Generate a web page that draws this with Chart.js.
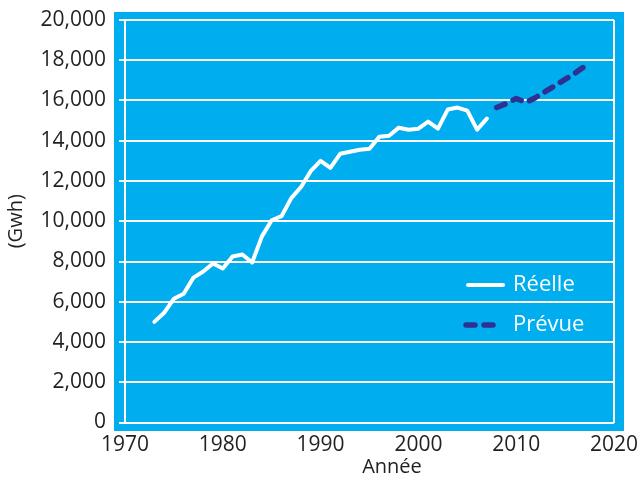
<!DOCTYPE html>
<html>
<head>
<meta charset="utf-8">
<script src="https://cdn.jsdelivr.net/npm/chart.js@4"></script>
<style>
  html, body { margin: 0; padding: 0; background: #fff; }
  #wrap { width: 641px; height: 480px; }
</style>
</head>
<body>
<div id="wrap"><canvas id="energyChart" width="641" height="480"></canvas></div>
<script>
// valeurs
const yearsActual = [1973, 1974, 1975, 1976, 1977, 1978, 1979, 1980, 1981, 1982,
    1983, 1984, 1985, 1986, 1987, 1988, 1989, 1990, 1991, 1992,
    1993, 1994, 1995, 1996, 1997, 1998, 1999, 2000, 2001, 2002,
    2003, 2004, 2005, 2006, 2007];
const actualGwh = [5000, 5450, 6150, 6400, 7200, 7500, 7900, 7650, 8250, 8350,
    7950, 9250, 10050, 10250, 11150, 11700, 12500, 13000, 12650, 13350,
    13450, 13550, 13600, 14200, 14250, 14650, 14550, 14600, 14950, 14600,
    15550, 15650, 15500, 14550, 15100];

const yearsForecast = [2008, 2009, 2010, 2011, 2012, 2013, 2014, 2015, 2016, 2017];
const forecastGwh = [15650, 15850, 16100, 15900, 16150, 16450, 16750, 17050, 17350, 17700];

const xTicks = [1970, 1980, 1990, 2000, 2010, 2020];
const yTicks = [0, 2000, 4000, 6000, 8000, 10000, 12000, 14000, 16000, 18000, 20000];

const seriesNames = ['Réelle', 'Prévue'];
const xTitle = 'Année';
const yTitle = '(Gwh)';

const BLUE = '#00aeef';
const NAVY = '#2e3192';
const TEXT = '#231f20';
const FONT = "'Open Sans', 'Noto Sans', sans-serif";

const toPoints = (xs, ys) => xs.map((x, i) => ({ x: x, y: ys[i] }));

// fond bleu un peu plus large que la zone du graphique
const panelBg = {
    id: 'panelBg',
    beforeDraw(chart) {
        const a = chart.chartArea;
        const c = chart.ctx;
        c.save();
        c.fillStyle = BLUE;
        c.fillRect(a.left - 11, a.top - 8, a.right - a.left + 21, a.bottom - a.top + 16.5);
        c.restore();
    }
};

// legende dans la zone du graphique (en bas a droite) + titre de l'axe x decale
const innerLegend = {
    id: 'innerLegend',
    afterDraw(chart) {
        const c = chart.ctx;
        const items = [
            { ds: chart.data.datasets[0], x0: 468, x1: 503, y: 285 },
            { ds: chart.data.datasets[1], x0: 466, x1: 500, y: 325 }
        ];
        c.save();
        items.forEach(it => {
            c.beginPath();
            c.strokeStyle = it.ds.borderColor;
            c.lineWidth = it.ds.borderWidth;
            c.lineCap = 'round';
            c.setLineDash(it.ds.borderDash || []);
            c.moveTo(it.x0, it.y);
            c.lineTo(it.x1, it.y);
            c.stroke();
            c.setLineDash([]);
            c.fillStyle = '#ffffff';
            c.font = '22px ' + FONT;
            c.textAlign = 'left';
            c.textBaseline = 'middle';
            c.fillText(it.ds.label, 513, it.y);
        });
        c.fillStyle = TEXT;
        c.font = '20px ' + FONT;
        c.textAlign = 'center';
        c.textBaseline = 'middle';
        c.fillText(xTitle, 392, 467);
        c.restore();
    }
};

const ctx = document.getElementById('energyChart').getContext('2d');

const energyChart = new Chart(ctx, {
    type: 'line',
    data: {
        datasets: [{
            label: seriesNames[0],
            data: toPoints(yearsActual, actualGwh),
            borderColor: '#ffffff',
            borderWidth: 4,
            borderJoinStyle: 'round',
            borderCapStyle: 'round',
            pointRadius: 0,
            tension: 0,
            fill: false
        }, {
            label: seriesNames[1],
            data: toPoints(yearsForecast, forecastGwh),
            borderColor: NAVY,
            borderWidth: 5.5,
            borderDash: [9, 9],
            borderCapStyle: 'round',
            borderJoinStyle: 'round',
            pointRadius: 0,
            tension: 0,
            fill: false
        }]
    },
    options: {
        responsive: false,
        animation: false,
        layout: { padding: { left: 0, right: 27, top: 20, bottom: 0 } },
        plugins: {
            legend: { display: false },
            tooltip: { enabled: false }
        },
        scales: {
            x: {
                type: 'linear',
                min: 1970,
                max: 2020,
                afterFit: s => { s.height = 57.5; s.paddingLeft = 0; s.paddingRight = 0; },
                afterBuildTicks: s => { s.ticks = xTicks.map(v => ({ value: v })); },
                border: { display: false },
                grid: {
                    color: c => (c.tick && (c.tick.value === 1970 || c.tick.value === 2020)) ? '#ffffff' : 'rgba(0,0,0,0)',
                    lineWidth: 2,
                    drawTicks: false
                },
                ticks: {
                    padding: 10,
                    color: TEXT,
                    font: { family: FONT, size: 21 },
                    callback: v => String(v)
                }
            },
            y: {
                min: 0,
                max: 20000,
                afterFit: s => { s.width = 125; s.paddingTop = 0; s.paddingBottom = 0; },
                afterBuildTicks: s => { s.ticks = yTicks.map(v => ({ value: v })); },
                border: { display: false },
                grid: {
                    color: '#ffffff',
                    lineWidth: 2,
                    tickLength: 6,
                    tickColor: '#ffffff'
                },
                ticks: {
                    padding: 13,
                    color: TEXT,
                    font: { family: FONT, size: 21 },
                    callback: v => v.toLocaleString('en-US')
                },
                title: {
                    display: true,
                    text: yTitle,
                    color: TEXT,
                    font: { family: FONT, size: 20 },
                    padding: { top: 4, bottom: 4 }
                }
            }
        }
    },
    plugins: [panelBg, innerLegend]
});
</script>
</body>
</html>
